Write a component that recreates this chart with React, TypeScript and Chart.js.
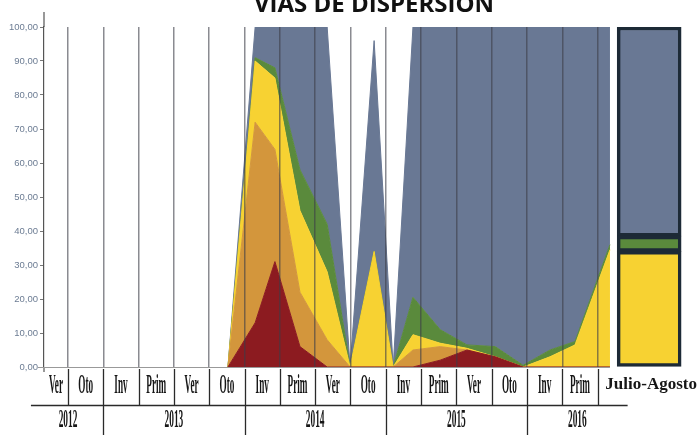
import React, { useEffect, useRef } from 'react';
import { Chart, registerables } from 'chart.js';

Chart.register(...registerables);

// ---- Data ----
const titleText = 'VIAS DE DISPERSION';
const seasonLabels = ['Ver', 'Oto', 'Inv', 'Prim', 'Ver', 'Oto', 'Inv', 'Prim', 'Ver', 'Oto', 'Inv', 'Prim', 'Ver', 'Oto', 'Inv', 'Prim'];
const yearLabels = ['2012', '2013', '2014', '2015', '2016'];
const yearStart = [0, 2, 6, 10, 14];
const yearEnd = [2, 6, 10, 14, 16.85];
const seasonBoundaries = [1, 2, 3, 4, 5, 6, 7, 8, 9, 10, 11, 12, 13, 14, 15, 16];

// sample positions along the season axis (season units)
const areaX = [5.53, 6.3, 6.86, 7.57, 8.34, 8.99, 9.67, 10.21, 10.77, 11.54, 12.3, 13.1, 13.89, 14.65, 15.36, 16.35];
const serieRoja = [0, 13, 31, 6, 0, 0, 0, 0, 0, 2, 5, 3, 0, 0, 0, 0];
const serieNaranja = [0, 59, 33, 16, 8, 0, 0, 0, 5, 4, 0, 0, 0, 0, 0, 0];
const serieAmarilla = [0, 18, 21, 24, 20, 0, 34, 0, 4.5, 1, 0.5, 0, 0, 3, 6.5, 34.5];
const serieVerde = [0, 1, 3, 12, 14, 0, 0, 0, 11, 4, 1, 3, 0.5, 2, 1, 1.5];
const serieGris = [0, 9, 12, 42, 58, 0, 62, 0, 79.5, 89, 93.5, 94, 99.5, 95, 92.5, 64];

const barLabel = 'Julio-Agosto';
const barX = [17.46];
const barAmarilla = [34];
const barVerde = [4.5];
const barGris = [61.5];

const COLORS = {
  roja: '#8c1b20',
  naranja: '#d3963c',
  amarilla: '#f7d232',
  verde: '#5a8a3c',
  gris: '#697894',
};

const pts = (xs: number[], ys: number[]) => xs.map((x, i) => ({ x, y: ys[i] }));

const tablePlugin = {
  id: 'tablePlugin',
  afterDraw(chart: any) {
    const { ctx, chartArea } = chart;
    const xs = chart.scales.x;
    const px = (v: number) => xs.getPixelForValue(v);
    const bottom = chartArea.bottom;
    ctx.save();

    // title (cropped at top)
    ctx.fillStyle = '#111';
    ctx.font = 'bold 24px "Open Sans"';
    ctx.textAlign = 'center';
    ctx.textBaseline = 'alphabetic';
    ctx.fillText(titleText, 374, 12);

    // y axis extension above plot
    ctx.strokeStyle = '#555';
    ctx.lineWidth = 1.2;
    ctx.beginPath();
    ctx.moveTo(chartArea.left, 12);
    ctx.lineTo(chartArea.left, chartArea.top);
    ctx.moveTo(chartArea.left, bottom);
    ctx.lineTo(chartArea.left, bottom + 5);
    ctx.stroke();

    // baseline
    ctx.strokeStyle = '#999';
    ctx.lineWidth = 1;
    ctx.beginPath();
    ctx.moveTo(chartArea.left - 6, bottom + 0.5);
    ctx.lineTo(px(areaX[areaX.length - 1]), bottom + 0.5);
    ctx.stroke();

    // table lines
    const rowMid = bottom + 38;
    ctx.strokeStyle = '#2a2a2a';
    ctx.lineWidth = 1.3;
    ctx.beginPath();
    seasonBoundaries.forEach((b) => {
      const x = Math.round(px(b)) + 0.5;
      ctx.moveTo(x, bottom + 2);
      ctx.lineTo(x, rowMid);
    });
    ctx.moveTo(px(-0.05), rowMid + 0.5);
    ctx.lineTo(px(yearEnd[yearEnd.length - 1]), rowMid + 0.5);
    yearStart.slice(1).forEach((b) => {
      const x = Math.round(px(b)) + 0.5;
      ctx.moveTo(x, rowMid);
      ctx.lineTo(x, chart.height);
    });
    ctx.stroke();

    // season labels (condensed bold serif)
    ctx.fillStyle = '#161616';
    ctx.font = 'bold 27px "Liberation Serif"';
    ctx.textAlign = 'center';
    ctx.textBaseline = 'middle';
    seasonLabels.forEach((lab, i) => {
      const lo = Math.max(i, xs.min);
      const c = px((lo + i + 1) / 2);
      ctx.save();
      ctx.translate(c, bottom + 19);
      ctx.scale(0.34, 1);
      ctx.fillText(lab, 0, 0);
      ctx.restore();
    });

    // year labels
    ctx.font = 'bold 26px "Liberation Serif"';
    yearLabels.forEach((lab, i) => {
      const c = px((yearStart[i] + yearEnd[i]) / 2);
      ctx.save();
      ctx.translate(c, rowMid + 15);
      ctx.scale(0.36, 1);
      ctx.fillText(lab, 0, 0);
      ctx.restore();
    });

    // bar label
    ctx.font = 'bold 17px "Liberation Serif"';
    ctx.fillText(barLabel, px(barX[0]) + 2, bottom + 18);

    ctx.restore();
  },
};

export default function App() {
  const ref = useRef<HTMLCanvasElement | null>(null);

  useEffect(() => {
    document.body.style.margin = '0';
    if (!ref.current) return;
    const areaCommon = {
      type: 'line' as const,
      stack: 'area',
      pointRadius: 0,
      borderWidth: 1,
      tension: 0,
    };
    const barCommon = {
      type: 'bar' as const,
      stack: 'bar',
      barThickness: 64,
      borderWidth: 3.5,
      borderColor: '#1d2a36',
      borderSkipped: false as const,
    };
    const chart = new Chart(ref.current, {
      type: 'line',
      data: {
        datasets: [
          { ...areaCommon, label: 'roja', data: pts(areaX, serieRoja), backgroundColor: COLORS.roja, borderColor: COLORS.roja, fill: 'origin' },
          { ...areaCommon, label: 'naranja', data: pts(areaX, serieNaranja), backgroundColor: COLORS.naranja, borderColor: COLORS.naranja, fill: '-1' },
          { ...areaCommon, label: 'amarilla', data: pts(areaX, serieAmarilla), backgroundColor: COLORS.amarilla, borderColor: COLORS.amarilla, fill: '-1' },
          { ...areaCommon, label: 'verde', data: pts(areaX, serieVerde), backgroundColor: COLORS.verde, borderColor: COLORS.verde, fill: '-1' },
          { ...areaCommon, label: 'gris', data: pts(areaX, serieGris), backgroundColor: COLORS.gris, borderColor: COLORS.gris, fill: '-1' },
          { ...barCommon, label: 'b-amarilla', data: pts(barX, barAmarilla), backgroundColor: COLORS.amarilla },
          { ...barCommon, label: 'b-verde', data: pts(barX, barVerde), backgroundColor: COLORS.verde },
          { ...barCommon, label: 'b-gris', data: pts(barX, barGris), backgroundColor: COLORS.gris },
        ] as any,
      },
      options: {
        animation: false,
        responsive: false,
        layout: { padding: { top: 27, right: 0, bottom: 0, left: 0 } },
        plugins: { legend: { display: false }, tooltip: { enabled: false }, title: { display: false } },
        scales: {
          x: {
            type: 'linear',
            stacked: true,
            offset: false,
            min: 0.32,
            max: 18.9,
            afterBuildTicks: (s: any) => {
              s.ticks = seasonBoundaries.map((v) => ({ value: v }));
            },
            afterFit: (s: any) => {
              s.height = 68;
            },
            ticks: { display: false },
            grid: { z: 1, offset: false, color: 'rgba(60,62,72,0.6)', lineWidth: 1.5, drawTicks: false, drawOnChartArea: true },
            border: { display: false },
          },
          y: {
            stacked: true,
            min: 0,
            max: 100,
            afterFit: (s: any) => {
              s.width = 44;
            },
            ticks: {
              stepSize: 10,
              padding: 2,
              color: '#6c7c93',
              font: { size: 9.5, family: '"Liberation Sans"' },
              callback: (v: any) => Number(v).toFixed(2).replace('.', ','),
            },
            grid: { drawOnChartArea: false, drawTicks: true, tickLength: 4, color: '#777' },
            border: { display: true, color: '#555', width: 1.2 },
          },
        },
      } as any,
      plugins: [tablePlugin],
    });
    return () => chart.destroy();
  }, []);

  return (
    <div style={{ width: 700, height: 435 }}>
      <canvas ref={ref} width={700} height={435} />
    </div>
  );
}
